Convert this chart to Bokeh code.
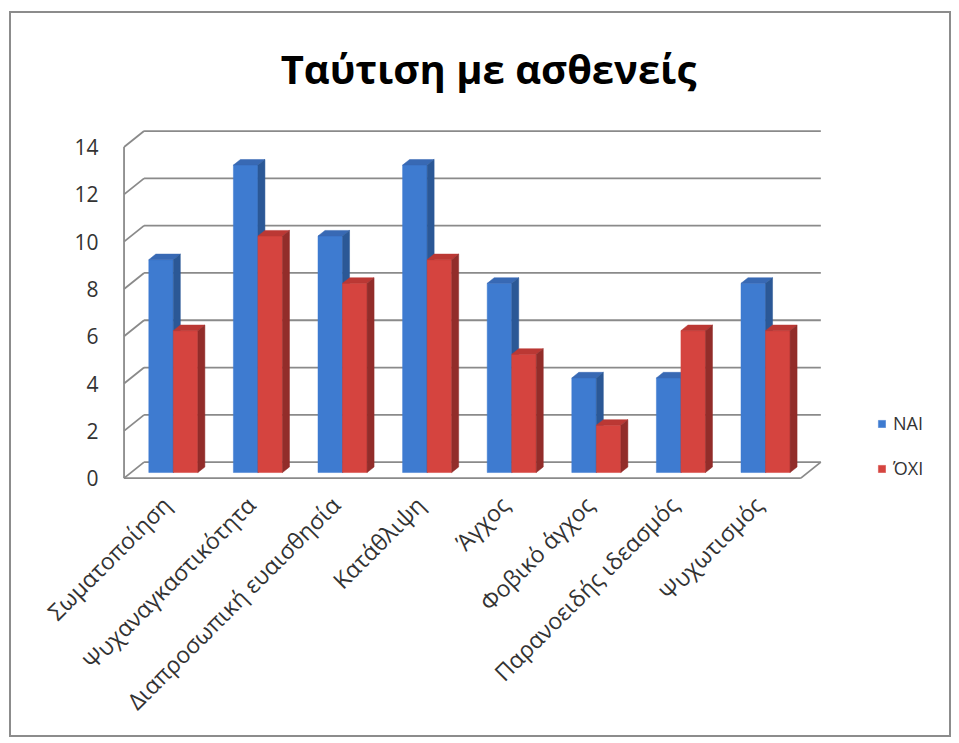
import math
from bokeh.plotting import figure
from bokeh.models import (ColumnDataSource, FixedTicker, CustomJSTickFormatter, Legend,
                          LegendItem, Label, Range1d)
from bokeh.embed import file_html
from bokeh.resources import INLINE

# ---------------- data ----------------
categories = ["Σωματοποίηση", "Ψυχαναγκαστικότητα", "Διαπροσωπική ευαισθησία", "Κατάθλιψη",
              "Άγχος", "Φοβικό άγχος", "Παρανοειδής ιδεασμός", "Ψυχωτισμός"]
nai = [9, 13, 10, 13, 8, 4, 4, 8]
oxi = [6, 10, 8, 9, 5, 2, 6, 6]
series_names = ["NAI", "ΌΧΙ"]
y_ticks = [0, 2, 4, 6, 8, 10, 12, 14]
title_text = "Ταύτιση με ασθενείς"

# ---------------- geometry (style) ----------------
PX_X = 84.6          # px per category
PX_Y = 23.65         # px per unit
DX = 20 / PX_X       # depth offset of back wall (x, data units)
DY = 16 / PX_Y       # depth offset of back wall (y, data units)
POS_D = 0.35         # depth position of bars
BAR_D = 0.35         # bar thickness in depth
BAR_W = 0.29

# page layout: outer border drawn by CSS around the canvas
M_TOP, M_RIGHT, M_BOTTOM, M_LEFT = 11, 8, 6, 9
BW = 2
EW = 959 - M_LEFT - M_RIGHT
EH = 743 - M_TOP - M_BOTTOM
OX, OY = M_LEFT + BW, M_TOP + BW          # canvas origin on the page
CW, CH = EW, EH                           # canvas size
# frame, in page pixels
F_LEFT, F_RIGHT, F_TOP, F_BOTTOM = 121, 940, 20, 480

x0r = -0.03
y0r = -0.1
p = figure(width=EW, height=EH, output_backend="svg", toolbar_location=None,
           x_range=Range1d(x0r, x0r + (F_RIGHT - F_LEFT) / PX_X),
           y_range=Range1d(y0r, y0r + (F_BOTTOM - F_TOP) / PX_Y),
           min_border_left=F_LEFT - OX, min_border_right=OX + CW - F_RIGHT,
           min_border_top=F_TOP - OY, min_border_bottom=OY + CH - F_BOTTOM)
p.margin = (M_TOP, M_RIGHT, M_BOTTOM, M_LEFT)
p.styles = {"border": f"{BW}px solid #8c8c8c"}
p.outline_line_color = None
p.xgrid.visible = False
p.ygrid.visible = False
p.background_fill_color = "white"
p.border_fill_color = "white"

n = len(categories)
ymax = y_ticks[-1]
GRID = "#8a8a8a"

# back wall gridlines + left wall diagonals
gx, gy = [], []
for k in y_ticks:
    gx.append([DX, n + DX]); gy.append([k + DY, k + DY])
    gx.append([0, DX]); gy.append([k, k + DY])
# front-left vertical edge, floor front edge, floor right edge
gx += [[0, 0], [0, n], [n, n + DX]]
gy += [[0, ymax], [0, 0], [0, DY]]
p.multi_line(gx, gy, line_color=GRID, line_width=1.8)

# bars
bx, by = BAR_D * DX, BAR_D * DY
sx, sy = POS_D * DX, POS_D * DY
styles = [("#3e7bd0", "#3869b4", "#2b5896"), ("#d5443f", "#bb3834", "#922d2a")]
front_renderers = []
for si, vals in enumerate([nai, oxi]):
    front, top, side = styles[si]
    lefts = [i + 0.5 + sx - BAR_W + si * BAR_W for i in range(n)]
    rights = [l + BAR_W for l in lefts]
    bottoms = [sy] * n
    tops = [v + sy for v in vals]
    src = ColumnDataSource(dict(left=lefts, right=rights, bottom=bottoms, top=tops,
                                cat=categories, value=vals))
    r = p.quad(left="left", right="right", bottom="bottom", top="top", source=src,
               fill_color=front, line_color=front, line_width=0.5)
    front_renderers.append(r)
    txs = [[l, rr, rr + bx, l + bx] for l, rr in zip(lefts, rights)]
    tys = [[t, t, t + by, t + by] for t in tops]
    p.patches(txs, tys, fill_color=top, line_color=top, line_width=0.5)
    sxs = [[rr, rr, rr + bx, rr + bx] for rr in rights]
    sys_ = [[b, t, t + by, b + by] for b, t in zip(bottoms, tops)]
    p.patches(sxs, sys_, fill_color=side, line_color=side, line_width=0.5)

# axes
p.yaxis.ticker = FixedTicker(ticks=y_ticks)
p.yaxis.axis_line_color = None
p.yaxis.major_tick_line_color = None
p.yaxis.minor_tick_line_color = None
p.yaxis.major_label_standoff = 17
p.yaxis.major_label_text_font = "Open Sans"
p.yaxis.major_label_text_font_size = "21px"
p.yaxis.major_label_text_color = "#333333"

p.xaxis.ticker = FixedTicker(ticks=[i + 0.5 for i in range(n)])
p.xaxis.formatter = CustomJSTickFormatter(args=dict(names=categories),
                                          code="return names[Math.round(tick - 0.5)] || '';")
p.xaxis.major_label_orientation = math.pi / 4
p.xaxis.axis_line_color = None
p.xaxis.major_tick_line_color = None
p.xaxis.minor_tick_line_color = None
p.xaxis.major_label_standoff = 14
p.xaxis.major_label_text_font = "Open Sans"
p.xaxis.major_label_text_font_size = "23px"
p.xaxis.major_label_text_color = "#333333"

# legend
legend = Legend(items=[LegendItem(label=series_names[0], renderers=[front_renderers[0]]),
                       LegendItem(label=series_names[1], renderers=[front_renderers[1]])],
                location=(756, 0), glyph_width=9, glyph_height=9, label_standoff=7,
                label_text_font="Open Sans", label_text_font_size="18px",
                label_text_color="#333333", spacing=21, padding=0, margin=0,
                border_line_color=None, background_fill_alpha=0)
p.add_layout(legend)

# title
title = Label(x=x0r + (488 - F_LEFT) / PX_X, y=y0r + (F_BOTTOM - 68) / PX_Y, text=title_text,
              text_font="Open Sans", text_font_style="bold", text_font_size="40px",
              text_align="center", text_baseline="alphabetic", text_color="black")
p.add_layout(title)

open("out.html", "w").write(file_html(p, INLINE))
